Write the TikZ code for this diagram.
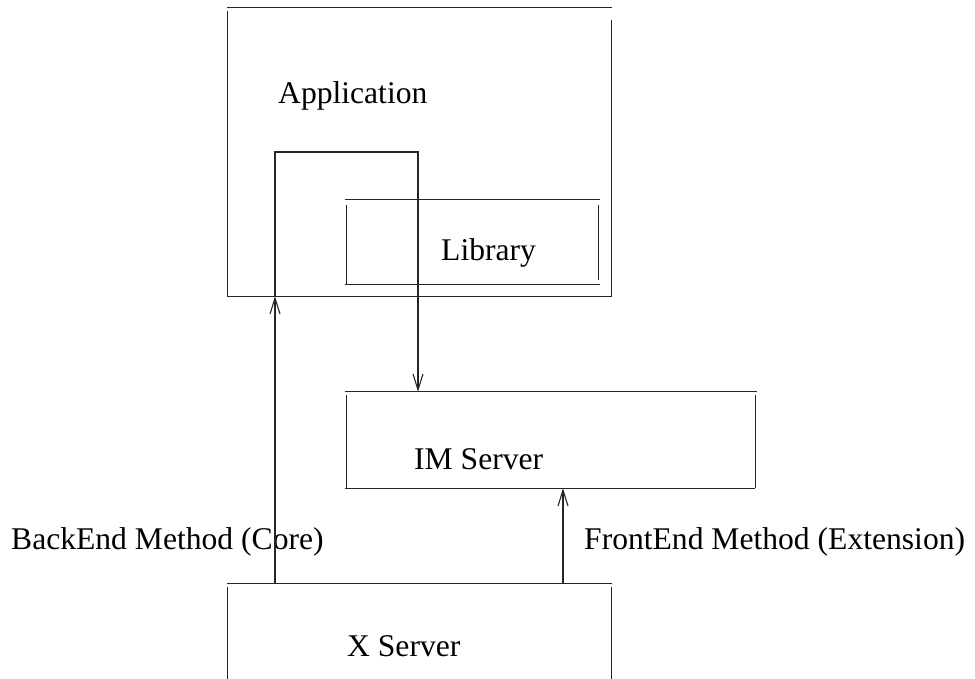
\documentclass[tikz,border=0pt]{standalone}
\usepackage{fontspec}
\setmainfont{Liberation Serif}
\usetikzlibrary{arrows.meta}
\begin{document}
\begin{tikzpicture}[x=1pt,y=-1pt,
  line/.style={line width=1.2pt, draw=black!85},
  arr/.style={line, -{Straight Barb[length=16pt,width=10pt,line width=1.1pt]}},
  box/.style={rectangle, draw=none, inner sep=0pt},
  lbl/.style={anchor=base west, inner sep=0pt, font=\fontsize{31.6}{36}\selectfont}]
\useasboundingbox (0,0) rectangle (975,679);
% boxes
\node[box, minimum width=383pt, minimum height=288pt] (app) at (419.5,152) {};
\node[box, minimum width=251pt, minimum height=84pt] (lib) at (472.5,242) {};
\node[box, minimum width=408pt, minimum height=96pt] (ims) at (551,440) {};
\node[box, minimum width=383pt, minimum height=190pt] (xs) at (419.5,679) {};
% application frame
\draw[line] ([xshift=-1pt]app.north west) -- ([xshift=1pt]app.north east);
\draw[line] ([yshift=-3pt]app.north west) -- (app.south west);
\draw[line] ([yshift=-12pt]app.north east) -- (app.south east);
\draw[line] ([xshift=-1pt]app.south west) -- ([xshift=1pt]app.south east);
% library frame
\draw[line] ([xshift=-2pt]lib.north west) -- ([xshift=2pt]lib.north east);
\draw[line] ([yshift=-5pt]lib.north west) -- (lib.south west);
\draw[line] ([yshift=-5pt]lib.north east) -- ([yshift=4pt]lib.south east);
\draw[line] ([xshift=-2pt]lib.south west) -- ([xshift=2pt]lib.south east);
% IM server frame
\draw[line] ([xshift=-2pt]ims.north west) -- ([xshift=2pt]ims.north east);
\draw[line] ([yshift=-3pt]ims.north west) -- (ims.south west);
\draw[line] ([yshift=-3pt]ims.north east) -- (ims.south east);
\draw[line] ([xshift=-2pt]ims.south west) -- (ims.south east);
% X server frame (bottom outside picture)
\draw[line] ([xshift=-1pt]xs.north west) -- ([xshift=1pt]xs.north east);
\draw[line] ([yshift=-3pt]xs.north west) -- (xs.west |- 0,679);
\draw[line] ([yshift=-3pt]xs.north east) -- (xs.east |- 0,679);
% labels
\node[lbl] (appl) at (278,104) {Application};
\node[lbl] (libl) at (441,261) {Library};
\node[lbl] (imsl) at (414,469) {IM Server};
\node[lbl] (xsl) at (347,656) {X Server};
\node[lbl] (bel) at (11,549) {BackEnd Method (Core)};
\node[lbl] (fel) at (584,549) {FrontEnd Method (Extension)};
% connectors
\coordinate (b1) at (275,0);
\coordinate (t) at (418,152);
\coordinate (b3) at (563,0);
\draw[arr] (b1 |- xs.north) -- (b1 |- app.south);
\draw[arr] (b1 |- app.south) |- (t) -- (t |- ims.north);
\draw[arr] (b3 |- xs.north) -- (b3 |- ims.south);
\end{tikzpicture}
\end{document}
